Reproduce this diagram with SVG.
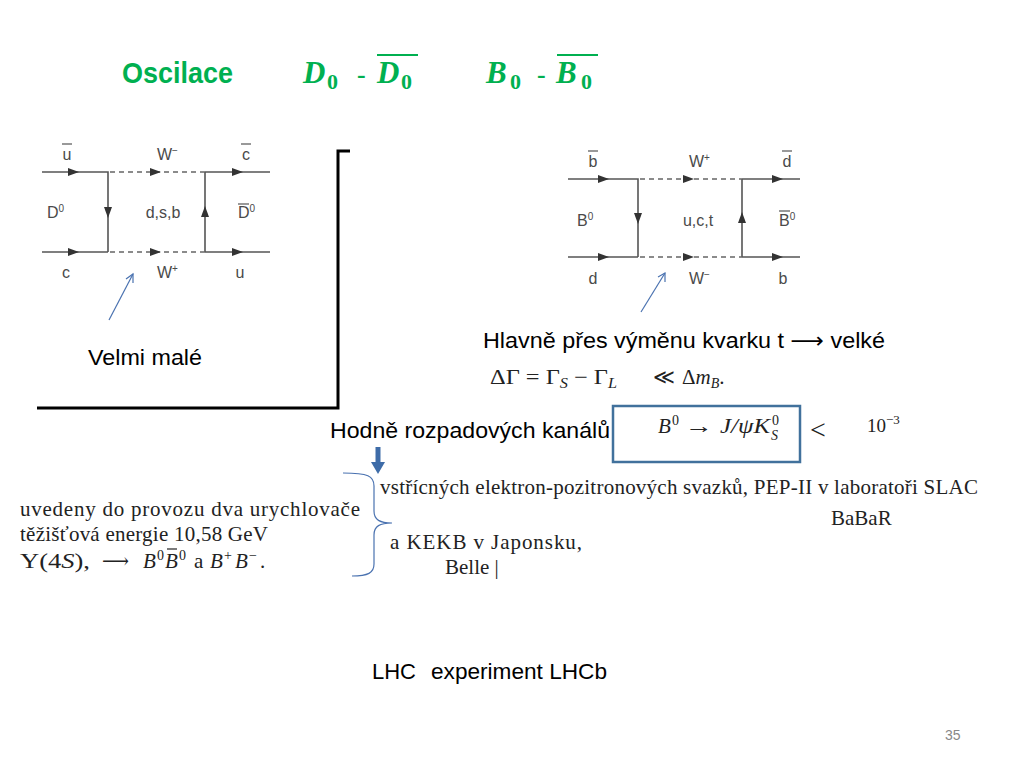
<svg xmlns="http://www.w3.org/2000/svg" width="1024" height="768" viewBox="0 0 1024 768">
<defs>
<style>
.cal{font-family:"Liberation Sans","DejaVu Sans",sans-serif;fill:#000}
.title{font-family:"Liberation Sans",sans-serif;font-weight:bold;fill:#00B050}
.mth{font-family:"Liberation Serif","DejaVu Serif",serif;fill:#00B050;font-weight:bold}
.fl{stroke:#555;stroke-width:1.6;fill:none}
.fd{stroke:#666;stroke-width:1.4;fill:none;stroke-dasharray:5 4}
.lab{font-family:"Liberation Sans","DejaVu Sans",sans-serif;font-size:16px;fill:#4a4a4a}
.bar{stroke:#555;stroke-width:1.2}
.tri{fill:#333}
.cm{font-family:"Liberation Serif","DejaVu Serif",serif;fill:#222}
.blue{stroke:#4A72B0;stroke-width:1.2;fill:none}
</style>
<path id="ar" d="M-6,-4 L5,0 L-6,4 Z"/>
</defs>
<rect width="1024" height="768" fill="#fff"/>

<g id="title">
<text class="title" x="122" y="83" font-size="30" textLength="111" lengthAdjust="spacingAndGlyphs">Oscilace</text>
<text class="mth" x="303" y="83" font-size="31" font-style="italic">D</text>
<text class="mth" x="327" y="89" font-size="22">0</text>
<text class="mth" x="357" y="83" font-size="26">-</text>
<text class="mth" x="377" y="83" font-size="31" font-style="italic">D</text>
<text class="mth" x="401" y="89" font-size="22">0</text>
<line x1="377" y1="55" x2="418" y2="55" stroke="#00B050" stroke-width="2"/>
<text class="mth" x="486" y="83" font-size="31" font-style="italic">B</text>
<text class="mth" x="510" y="89" font-size="22">0</text>
<text class="mth" x="537" y="83" font-size="26">-</text>
<text class="mth" x="556" y="83" font-size="31" font-style="italic">B</text>
<text class="mth" x="581" y="89" font-size="22">0</text>
<line x1="557" y1="55" x2="598" y2="55" stroke="#00B050" stroke-width="2"/>
</g>

<g id="feynman-D">
<path class="fl" d="M42,172 H108 V252 M42,252 H108 M205,172 V252 M205,172 H270 M205,252 H270"/>
<path class="fd" d="M110,172 H205 M110,252 H205"/>
<use href="#ar" class="tri" x="74" y="172"/>
<use href="#ar" class="tri" x="156" y="172"/>
<use href="#ar" class="tri" x="238" y="172"/>
<use href="#ar" class="tri" x="74" y="252"/>
<use href="#ar" class="tri" x="156" y="252"/>
<use href="#ar" class="tri" x="238" y="252"/>
<use href="#ar" class="tri" transform="translate(108,213) rotate(90)"/>
<use href="#ar" class="tri" transform="translate(205,211) rotate(-90)"/>
<text class="lab" x="67" y="160" text-anchor="middle">u</text>
<line class="bar" x1="62" y1="144" x2="72" y2="144"/>
<text class="lab" x="157" y="160">W<tspan font-size="10" dy="-6">−</tspan></text>
<text class="lab" x="246" y="160" text-anchor="middle">c</text>
<line class="bar" x1="241" y1="144" x2="251" y2="144"/>
<text class="lab" x="47" y="218">D<tspan font-size="10" dy="-6">0</tspan></text>
<text class="lab" x="163" y="218" text-anchor="middle" font-size="17">d,s,b</text>
<text class="lab" x="238" y="218">D<tspan font-size="10" dy="-6">0</tspan></text>
<line class="bar" x1="238" y1="204" x2="249" y2="204"/>
<text class="lab" x="66" y="278" text-anchor="middle">c</text>
<text class="lab" x="157" y="278">W<tspan font-size="10" dy="-6">+</tspan></text>
<text class="lab" x="240" y="278" text-anchor="middle">u</text>
</g>

<g id="feynman-B">
<path class="fl" d="M568,179 H638 V257 M568,257 H638 M742,179 V257 M742,179 H800 M742,257 H800"/>
<path class="fd" d="M640,179 H742 M640,257 H742"/>
<use href="#ar" class="tri" x="604" y="179"/>
<use href="#ar" class="tri" x="689" y="179"/>
<use href="#ar" class="tri" x="778" y="179"/>
<use href="#ar" class="tri" x="604" y="257"/>
<use href="#ar" class="tri" x="689" y="257"/>
<use href="#ar" class="tri" x="778" y="257"/>
<use href="#ar" class="tri" transform="translate(638,219) rotate(90)"/>
<use href="#ar" class="tri" transform="translate(742,217) rotate(-90)"/>
<text class="lab" x="593" y="167" text-anchor="middle">b</text>
<line class="bar" x1="588" y1="151" x2="598" y2="151"/>
<text class="lab" x="689" y="167">W<tspan font-size="10" dy="-6">+</tspan></text>
<text class="lab" x="787" y="167" text-anchor="middle">d</text>
<line class="bar" x1="782" y1="151" x2="792" y2="151"/>
<text class="lab" x="577" y="226">B<tspan font-size="10" dy="-6">0</tspan></text>
<text class="lab" x="698" y="226" text-anchor="middle" font-size="17">u,c,t</text>
<text class="lab" x="779" y="226">B<tspan font-size="10" dy="-6">0</tspan></text>
<line class="bar" x1="779" y1="211" x2="790" y2="211"/>
<text class="lab" x="593" y="284" text-anchor="middle">d</text>
<text class="lab" x="689" y="284">W<tspan font-size="10" dy="-6">−</tspan></text>
<text class="lab" x="783" y="284" text-anchor="middle">b</text>
</g>

<g id="frame">
<path d="M350,151 H338 V408 H37" fill="none" stroke="#000" stroke-width="3"/>
</g>

<g id="labels">
<text class="cal" x="88" y="365" font-size="22" textLength="114" lengthAdjust="spacingAndGlyphs">Velmi malé</text>
<text class="cal" x="483" y="348" font-size="22" textLength="402" lengthAdjust="spacingAndGlyphs">Hlavně přes výměnu kvarku t ⟶  velké</text>
<text class="cal" x="330" y="438" font-size="22" textLength="280" lengthAdjust="spacingAndGlyphs">Hodně rozpadových kanálů</text>
<text class="cal" x="372" y="679" font-size="22">LHC</text>
<text class="cal" x="431" y="679" font-size="22" textLength="176" lengthAdjust="spacingAndGlyphs">experiment LHCb</text>
<text x="945" y="740" font-family="Liberation Sans,sans-serif" font-size="14" fill="#888">35</text>
</g>

<g id="formulas">
<text class="cm" x="490" y="384" font-size="21" textLength="127" lengthAdjust="spacingAndGlyphs">ΔΓ = Γ<tspan font-style="italic" font-size="14" dy="4">S</tspan><tspan dy="-4"> − Γ</tspan><tspan font-style="italic" font-size="14" dy="4">L</tspan></text>
<text class="cm" x="653" y="384" font-size="21">≪</text>
<text class="cm" x="682" y="384" font-size="21">Δ<tspan font-style="italic">m</tspan><tspan font-style="italic" font-size="14" dy="4">B</tspan><tspan dy="-4">.</tspan></text>
<rect x="613" y="406" width="187" height="56" fill="none" stroke="#41719C" stroke-width="2.5"/>
<text class="cm" x="658" y="433" font-size="21" font-style="italic">B</text>
<text class="cm" x="672" y="425" font-size="14">0</text>
<text class="cm" x="685" y="433" font-size="21" textLength="28" lengthAdjust="spacingAndGlyphs">→</text>
<text class="cm" x="720" y="433" font-size="21" font-style="italic" textLength="50" lengthAdjust="spacingAndGlyphs">J/ψK</text>
<text class="cm" x="772" y="425" font-size="14">0</text>
<text class="cm" x="771" y="440" font-size="14" font-style="italic">S</text>
<text class="cm" x="810" y="439" font-size="28">&lt;</text>
<text class="cm" x="867" y="432" font-size="19">10<tspan font-size="13" dy="-8">−3</tspan></text>
</g>

<g id="text-left">
<text class="cm" x="20" y="516" font-size="21" textLength="340" lengthAdjust="spacing">uvedeny do provozu dva urychlovače</text>
<text class="cm" x="20" y="541" font-size="21" textLength="248" lengthAdjust="spacing">těžišťová energie 10,58 GeV</text>
<text class="cm" x="20" y="568" font-size="22" textLength="70" lengthAdjust="spacingAndGlyphs">Υ(4<tspan font-style="italic">S</tspan>),</text>
<text class="cm" x="102" y="568" font-size="21" textLength="27" lengthAdjust="spacingAndGlyphs">⟶</text>
<text class="cm" x="143" y="568" font-size="21" font-style="italic">B</text>
<text class="cm" x="157" y="560" font-size="14">0</text>
<text class="cm" x="165" y="568" font-size="21" font-style="italic">B</text>
<line x1="167" y1="549" x2="177" y2="549" stroke="#222" stroke-width="1.2"/>
<text class="cm" x="179" y="560" font-size="14">0</text>
<text class="cm" x="194" y="568" font-size="21">a</text>
<text class="cm" x="210" y="568" font-size="21" font-style="italic">B</text>
<text class="cm" x="224" y="560" font-size="14">+</text>
<text class="cm" x="235" y="568" font-size="21" font-style="italic">B</text>
<text class="cm" x="249" y="560" font-size="14">−</text>
<text class="cm" x="260" y="568" font-size="21">.</text>
</g>

<g id="text-right">
<text class="cm" x="380" y="494" font-size="21" textLength="598" lengthAdjust="spacing">vstřícných elektron-pozitronových svazků, PEP-II v laboratoři SLAC</text>
<text class="cm" x="831" y="525" font-size="21">BaBaR</text>
<text class="cm" x="390" y="549" font-size="21" textLength="192" lengthAdjust="spacing">a KEKB v Japonsku,</text>
<text class="cm" x="445" y="574" font-size="21">Belle |</text>
</g>

<g id="connectors">
<line class="blue" x1="109" y1="320" x2="133" y2="274"/>
<path class="blue" d="M126,279 L133,274 L133,283"/>
<line class="blue" x1="641" y1="312" x2="665" y2="273"/>
<path class="blue" d="M658,277 L665,273 L665,282"/>
<path d="M378,447 V464" stroke="#3E6CA8" stroke-width="5" fill="none"/>
<path d="M371,462 L385,462 L378,474 Z" fill="#3E6CA8"/>
<path class="blue" d="M343,473 C368,473 374,476 374,486 L374,511 C374,520 380,523 392,523 C380,523 374,526 374,535 L374,564 C374,573 368,576 352,576"/>
</g>
</svg>
